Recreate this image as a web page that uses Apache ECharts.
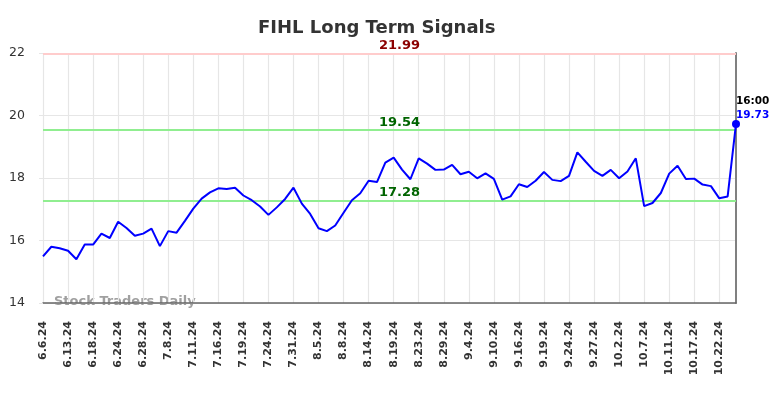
<!DOCTYPE html>
<html>
<head>
<meta charset="utf-8">
<script src="https://cdn.jsdelivr.net/npm/echarts@6/dist/echarts.min.js"></script>
<style>
html,body{margin:0;padding:0;background:#fff;}
#chart{width:784px;height:398px;}
</style>
</head>
<body>
<div id="chart"></div>
<script>
var dates = [
  "6.6.24","6.7.24","6.11.24","6.13.24","6.14.24","6.17.24","6.18.24","6.20.24","6.21.24",
  "6.24.24","6.26.24","6.27.24","6.28.24","7.1.24","7.3.24","7.8.24","7.9.24","7.10.24",
  "7.11.24","7.12.24","7.15.24","7.16.24","7.17.24","7.18.24","7.19.24","7.22.24","7.23.24",
  "7.24.24","7.26.24","7.29.24","7.31.24","8.1.24","8.2.24","8.5.24","8.6.24","8.7.24",
  "8.8.24","8.9.24","8.13.24","8.14.24","8.15.24","8.16.24","8.19.24","8.20.24","8.22.24",
  "8.23.24","8.26.24","8.27.24","8.29.24","8.30.24","9.3.24","9.4.24","9.6.24","9.9.24",
  "9.10.24","9.11.24","9.13.24","9.16.24","9.17.24","9.18.24","9.19.24","9.20.24","9.23.24",
  "9.24.24","9.25.24","9.26.24","9.27.24","9.30.24","10.1.24","10.2.24","10.3.24","10.4.24",
  "10.7.24","10.8.24","10.10.24","10.11.24","10.14.24","10.16.24","10.17.24","10.18.24","10.21.24",
  "10.22.24","10.23.24","10.24.24"
];
var prices = [
  15.49,15.80,15.75,15.67,15.40,15.87,15.87,16.22,16.08,
  16.60,16.40,16.15,16.22,16.38,15.82,16.30,16.25,16.63,
  17.02,17.34,17.54,17.67,17.65,17.69,17.44,17.29,17.09,
  16.82,17.06,17.33,17.69,17.18,16.85,16.39,16.30,16.48,
  16.89,17.29,17.51,17.91,17.87,18.49,18.65,18.27,17.96,
  18.63,18.46,18.26,18.27,18.42,18.12,18.20,17.99,18.15,
  17.97,17.31,17.41,17.80,17.71,17.91,18.19,17.94,17.90,
  18.07,18.82,18.52,18.23,18.07,18.26,17.99,18.21,18.63,
  17.10,17.20,17.52,18.14,18.39,17.97,17.98,17.79,17.74,
  17.35,17.41,19.73
];
var yTicks = [14, 16, 18, 20, 22];
var resistance = 21.99;
var upperSignal = 19.54;
var lowerSignal = 17.28;
var lastTime = "16:00";
var titleText = "FIHL Long Term Signals";
var watermark = "Stock Traders Daily";

var FONT = "DejaVu Sans";
var lastIdx = prices.length - 1;
var seriesData = prices.map(function (v, i) {
  if (i !== lastIdx) return {value: v, symbol: 'none'};
  return {
    value: v,
    symbol: 'circle',
    symbolSize: 8,
    itemStyle: {color: '#0000ff'},
    label: {
      show: true,
      position: [4, -26],
      align: 'left',
      formatter: function (p) { return '{t|' + lastTime + '}\n{v|' + p.value.toFixed(2) + '}'; },
      rich: {
        t: {fontFamily: FONT, fontWeight: 'bold', fontSize: 10.5, color: '#000', lineHeight: 14},
        v: {fontFamily: FONT, fontWeight: 'bold', fontSize: 10.5, color: '#0000ff', lineHeight: 14}
      }
    }
  };
});

var chart = echarts.init(document.getElementById('chart'), null, {renderer: 'canvas'});
chart.setOption({
  animation: false,
  backgroundColor: '#ffffff',
  title: {
    text: titleText,
    left: 253,
    top: 14,
    textStyle: {fontFamily: FONT, fontWeight: 'bold', fontSize: 18, color: '#333333'}
  },
  graphic: [{
    type: 'text',
    left: 54,
    top: 295,
    z: 0,
    style: {text: watermark, fontFamily: FONT, fontWeight: 'bold', fontSize: 13, fill: '#a0a0a0'}
  }],
  grid: {left: 43, right: 48, top: 53, bottom: 95, containLabel: false},
  xAxis: {
    type: 'category',
    data: dates,
    boundaryGap: false,
    axisLine: {show: true, lineStyle: {color: '#666666', width: 1.5}},
    axisTick: {show: false},
    axisLabel: {
      interval: 2,
      rotate: 90,
      margin: 18,
      fontFamily: FONT,
      fontWeight: 'bold',
      fontSize: 11,
      color: '#333333'
    },
    splitLine: {show: true, interval: 2, lineStyle: {color: '#e6e6e6', width: 1.2}}
  },
  yAxis: [{
    type: 'value',
    min: yTicks[0],
    max: yTicks[yTicks.length - 1],
    interval: 2,
    axisLine: {show: false},
    axisTick: {show: true, length: 4, lineStyle: {color: '#e6e6e6'}},
    axisLabel: {margin: 18, fontFamily: FONT, fontSize: 12.5, color: '#333333'},
    splitLine: {show: true, lineStyle: {color: '#e6e6e6', width: 1.2}}
  }, {
    type: 'value',
    position: 'right',
    min: yTicks[0],
    max: yTicks[yTicks.length - 1],
    interval: 2,
    axisLine: {show: true, lineStyle: {color: '#808080', width: 2}},
    axisTick: {show: false},
    axisLabel: {show: false},
    splitLine: {show: false}
  }],
  series: [{
    type: 'line',
    data: seriesData,
    showSymbol: true,
    showAllSymbol: true,
    symbol: 'none',
    lineStyle: {color: '#0000ff', width: 2},
    itemStyle: {color: '#0000ff'},
    z: 5,
    markLine: {
      silent: true,
      symbol: 'none',
      animation: false,
      data: [
        {yAxis: resistance, lineStyle: {color: '#ffcccc', width: 2, type: 'solid'},
          label: {color: '#8b0000'}},
        {yAxis: upperSignal, lineStyle: {color: '#90ee90', width: 2, type: 'solid'},
          label: {color: '#006400'}},
        {yAxis: lowerSignal, lineStyle: {color: '#90ee90', width: 2, type: 'solid'},
          label: {color: '#006400'}}
      ],
      label: {
        show: true,
        position: 'middle',
        distance: 1,
        offset: [10, 0],
        fontFamily: FONT,
        fontWeight: 'bold',
        fontSize: 13,
        formatter: function (p) { return p.value.toFixed(2); }
      }
    }
  }]
});
</script>
</body>
</html>
